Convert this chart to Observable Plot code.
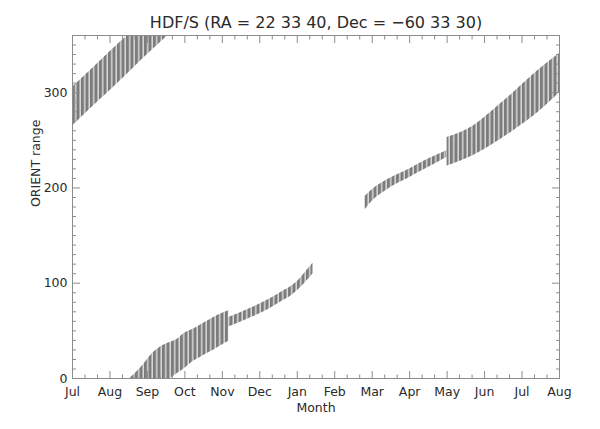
<!DOCTYPE html>
<html><head><meta charset="utf-8">
<script src="https://cdn.jsdelivr.net/npm/d3@7"></script>
<script src="https://cdn.jsdelivr.net/npm/@observablehq/plot@0.6"></script>
<style>html,body{margin:0;padding:0;background:#fff}#chart svg{display:block}</style>
</head><body><div id="chart"></div>
<script>
// Month tick labels (x = months since 1 Jul)
const monthLabels = ["Jul","Aug","Sep","Oct","Nov","Dec","Jan","Feb","Mar","Apr","May","Jun","Jul","Aug"];
const yMajor = [0, 100, 200, 300];

// Band A: Jul -> early Sep (wraps past 360)
const segA_month = [0, 0.5, 1.0, 1.5, 2.0, 2.55];
const segA_upper = [306, 324, 343, 361, 380, 400];
const segA_lower = [265, 284, 302, 321, 340, 360];

// Band B: Sep -> early Nov (wrapped, starts below 0)
const segB_month = [1.53, 1.72, 1.90, 2.08, 2.35, 2.61, 2.79, 3.01, 3.23, 3.41, 3.68, 3.77, 4.17];
const segB_upper = [0, 7, 15, 24, 33, 38, 41, 48, 52, 56, 62, 64, 71];
const segB_lower = [-45, -33, -24, -16, -7, 0, 5, 11, 18, 22, 28, 30, 39];

// Band C: early Nov -> mid Jan (narrow)
const segC_month = [4.17, 4.83, 5.2, 5.55, 5.85, 6.08, 6.25, 6.42];
const segC_upper = [64, 75, 82, 90, 97, 105, 113, 121];
const segC_lower = [54, 65, 72, 80, 87, 95, 102, 110];

// Band D: Mar -> May
const segD_month = [7.81, 8.0, 8.43, 9.0, 9.33, 9.99];
const segD_upper = [191, 198, 209, 220, 227, 239];
const segD_lower = [177, 186, 199, 211, 218, 232];

// Band E: May -> Aug
const segE_month = [10.0, 10.70, 11.15, 11.77, 12.48, 13.0];
const segE_upper = [253, 265, 279, 300, 325, 341];
const segE_lower = [223, 234, 244, 260, 281, 300];

const segs = [
  ["A", segA_month, segA_lower, segA_upper],
  ["B", segB_month, segB_lower, segB_upper],
  ["C", segC_month, segC_lower, segC_upper],
  ["D", segD_month, segD_lower, segD_upper],
  ["E", segE_month, segE_lower, segE_upper]
];
const rows = [];
for (const [name, m, lo, hi] of segs) m.forEach((v, i) => rows.push({seg: name, m: v, lo: lo[i], hi: hi[i]}));

const xMajor = d3.range(0, 14);
const xMinor = d3.range(0, 13 * 3 + 1).map(i => i / 3).filter(v => Math.abs(v - Math.round(v)) > 1e-6);
const yMinor = d3.range(0, 361, 10).filter(v => v % 100 !== 0);
const yMajorAll = [0, 100, 200, 300];

const axisColor = "#8c8c8c";
const blank = () => "";

const plot = Plot.plot({
  width: 600, height: 429,
  marginLeft: 72, marginRight: 41, marginTop: 35, marginBottom: 51,
  style: {fontFamily: "DejaVu Sans, sans-serif", fontSize: "12.5px", color: "#2a2a2a", background: "#fff"},
  x: {domain: [0, 13]},
  y: {domain: [0, 360]},
  marks: [
    Plot.areaY(rows, {x: "m", y1: "lo", y2: "hi", z: "seg", fill: "url(#stripes)", curve: "monotone-x", clip: true}),
    Plot.frame({stroke: axisColor}),
    // ticks (inward)
    Plot.axisX({anchor: "bottom", ticks: xMajor, tickSize: -7, tickFormat: blank, label: null, stroke: axisColor}),
    Plot.axisX({anchor: "bottom", ticks: xMinor, tickSize: -3.5, tickFormat: blank, label: null, stroke: axisColor}),
    Plot.axisX({anchor: "top", ticks: xMajor, tickSize: -7, tickFormat: blank, label: null, stroke: axisColor}),
    Plot.axisX({anchor: "top", ticks: xMinor, tickSize: -3.5, tickFormat: blank, label: null, stroke: axisColor}),
    Plot.axisY({anchor: "left", ticks: yMajorAll, tickSize: -8, tickFormat: blank, label: null, stroke: axisColor}),
    Plot.axisY({anchor: "left", ticks: yMinor, tickSize: -4, tickFormat: blank, label: null, stroke: axisColor}),
    Plot.axisY({anchor: "right", ticks: yMajorAll, tickSize: -8, tickFormat: blank, label: null, stroke: axisColor}),
    Plot.axisY({anchor: "right", ticks: yMinor, tickSize: -4, tickFormat: blank, label: null, stroke: axisColor}),
    // labels
    Plot.axisX({anchor: "bottom", ticks: xMajor, tickSize: 0, tickPadding: 9, tickFormat: i => monthLabels[i], label: null}),
    Plot.axisY({anchor: "left", ticks: yMajor, tickSize: 0, tickPadding: 5, label: null}),
    Plot.text(["HDF/S (RA = 22 33 40, Dec = \u221260 33 30)"], {frameAnchor: "top", dy: -19, fontSize: 16, fill: "#2a2a2a"}),
    Plot.text(["Month"], {frameAnchor: "bottom", dy: 33, fontSize: 12.5, fill: "#2a2a2a"}),
    Plot.text(["ORIENT range"], {frameAnchor: "left", dx: -37, rotate: -90, fontSize: 12.5, fill: "#2a2a2a"})
  ]
});

d3.select(plot).insert("defs", ":first-child").html(
  '<pattern id="stripes" patternUnits="userSpaceOnUse" width="4.5" height="8">' +
  '<rect width="4.5" height="8" fill="#d8d8d8"></rect>' +
  '<rect width="3" height="8" fill="#7c7c7c"></rect></pattern>'
);
document.getElementById("chart").appendChild(plot);
</script>
</body></html>
